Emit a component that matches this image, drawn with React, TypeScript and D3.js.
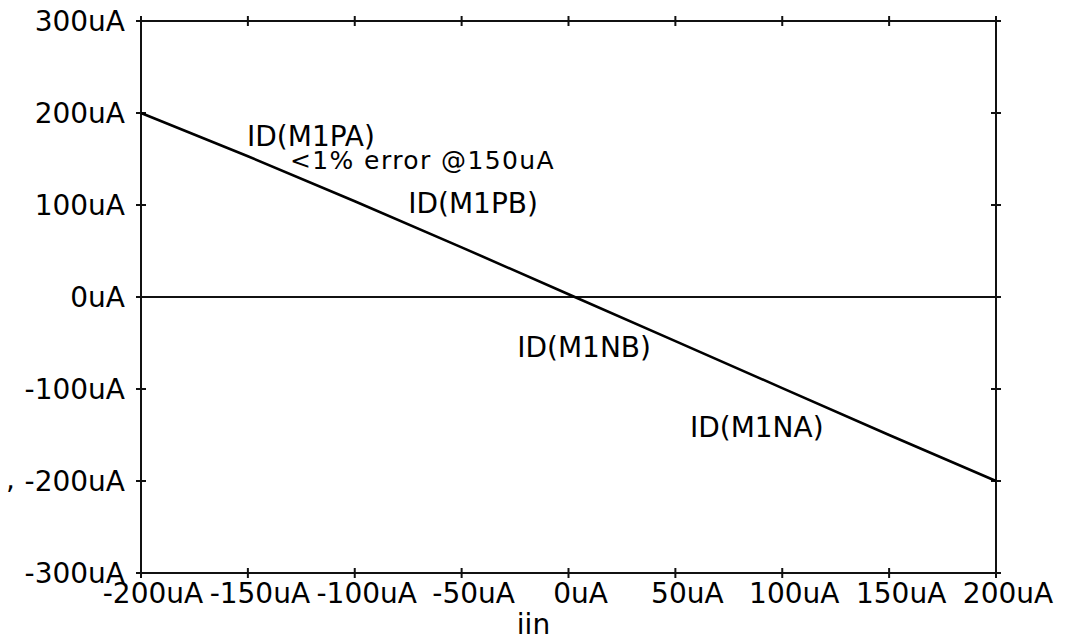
import React, { useEffect, useRef } from 'react';
import * as d3 from 'd3';

// sweep of the input current (uA) and the resulting drain current (uA)
const iin = [-200, -150, -100, -50, 0, 50, 100, 150, 200];
const idCurrent = [200, 153, 104, 54, 3, -48, -99, -150, -200];

const xTicks = [-200, -150, -100, -50, 0, 50, 100, 150, 200];
const yTicks = [300, 200, 100, 0, -100, -200, -300];

// curve labels, anchored in data units (uA)
const labelText = ['ID(M1PA)', '<1% error @150uA', 'ID(M1PB)', 'ID(M1NB)', 'ID(M1NA)'];
const labelX = [-150.4, -130.3, -75, -24, 56.8];
const labelY = [164, 139.5, 91, -65, -152];

const fmt = (v: number) => v + 'uA';

export default function App() {
  const svgRef = useRef<SVGSVGElement | null>(null);
  const W = 1067;
  const H = 641;
  const left = 141, right = 996, top = 21, bottom = 573;

  useEffect(() => {
    const svg = d3.select(svgRef.current);
    svg.selectAll('*').remove();

    const x = d3.scaleLinear().domain([-200, 200]).range([left, right]);
    const y = d3.scaleLinear().domain([-300, 300]).range([bottom, top]);

    const g = svg.append('g')
      .attr('font-family', '"DejaVu Sans", sans-serif')
      .attr('fill', '#000');

    // frame
    g.append('rect')
      .attr('x', left).attr('y', top)
      .attr('width', right - left).attr('height', bottom - top)
      .attr('fill', 'none').attr('stroke', '#111').attr('stroke-width', 2);

    // zero line
    g.append('line')
      .attr('x1', left).attr('x2', right)
      .attr('y1', y(0)).attr('y2', y(0))
      .attr('stroke', '#111').attr('stroke-width', 2);

    // tick crosses on all four sides
    const tk = 5;
    xTicks.forEach(t => {
      [bottom, top].forEach(yy => {
        g.append('line')
          .attr('x1', x(t)).attr('x2', x(t))
          .attr('y1', yy - tk).attr('y2', yy + tk)
          .attr('stroke', '#111').attr('stroke-width', 2);
      });
    });
    yTicks.forEach(t => {
      [left, right].forEach(xx => {
        g.append('line')
          .attr('x1', xx - tk).attr('x2', xx + tk)
          .attr('y1', y(t)).attr('y2', y(t))
          .attr('stroke', '#111').attr('stroke-width', 2);
      });
    });

    // tick labels
    g.selectAll('text.xl')
      .data(xTicks)
      .enter()
      .append('text')
      .attr('class', 'xl')
      .attr('x', d => x(d) + 12)
      .attr('y', bottom + 30)
      .attr('text-anchor', 'middle')
      .attr('font-size', 28)
      .text(d => fmt(d));

    g.selectAll('text.yl')
      .data(yTicks)
      .enter()
      .append('text')
      .attr('class', 'yl')
      .attr('x', left - 16)
      .attr('y', d => y(d))
      .attr('dy', '0.36em')
      .attr('text-anchor', 'end')
      .attr('font-size', 28)
      .text(d => fmt(d));

    // x axis title
    g.append('text')
      .attr('x', (left + right) / 2 - 35)
      .attr('y', bottom + 61)
      .attr('text-anchor', 'middle')
      .attr('font-size', 28)
      .text('iin');

    // stray mark from the scan
    g.append('text')
      .attr('x', 6)
      .attr('y', y(-200) + 8)
      .attr('font-size', 28)
      .text(',');

    // the curve
    const pts: [number, number][] = iin.map((v, i) => [v, idCurrent[i]]);
    const line = d3.line<[number, number]>()
      .x(d => x(d[0]))
      .y(d => y(d[1]));
    g.append('path')
      .datum(pts)
      .attr('d', line)
      .attr('fill', 'none')
      .attr('stroke', '#000')
      .attr('stroke-width', 2.6);

    // annotations
    labelText.forEach((t, i) => {
      g.append('text')
        .attr('x', x(labelX[i]))
        .attr('y', y(labelY[i]))
        .attr('font-size', i === 1 ? 25 : 28)
        .attr('letter-spacing', i === 1 ? 1.4 : 0)
        .text(t);
    });
  }, []);

  return (
    <svg
      ref={svgRef}
      width={W}
      height={H}
      style={{ position: 'absolute', left: 0, top: 0, background: '#fff' }}
    />
  );
}
